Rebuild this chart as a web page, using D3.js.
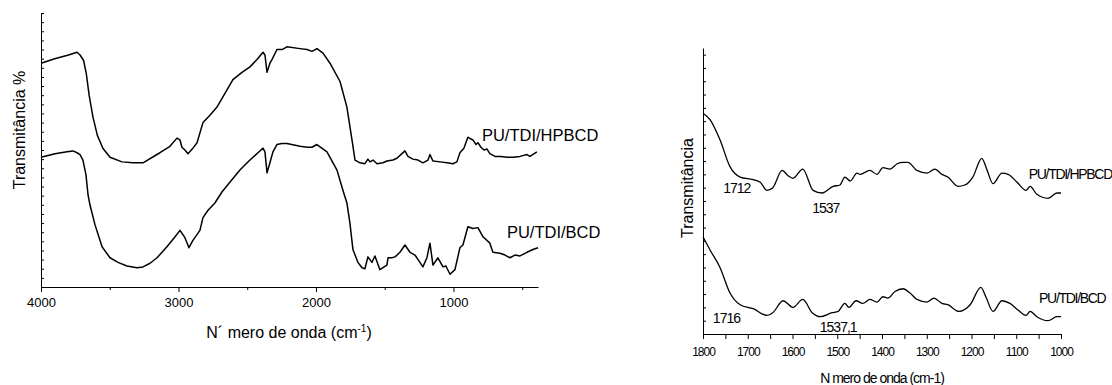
<!DOCTYPE html>
<html>
<head>
<meta charset="utf-8">
<script src="https://cdn.jsdelivr.net/npm/d3@7"></script>
<style>
  body { margin: 0; background: #fff; }
  svg { display: block; font-family: "Liberation Sans", Arial, sans-serif; }
  .axis path, .axis line { stroke: #000; stroke-width: 1; }
  .axis text { fill: #000; }
  .narrow text, text.narrow { letter-spacing: -1px; }
</style>
</head>
<body>
<script>
// full FTIR spectra, 4000-400 cm-1 (wavenumber, transmittance a.u.)
var wideHPBCD = [
  [4000,24.5],[3900,25.0],[3800,25.4],[3738,25.7],[3716,25.4],[3690,24.8],[3670,23.3],[3650,21.0],[3622,18.6],
  [3590,16.6],[3550,15.2],[3498,14.2],[3411,13.7],[3331,13.6],[3258,13.6],[3135,14.7],[3062,15.4],[3011,16.3],
  [2989,16.1],[2975,15.3],[2953,15.0],[2931,14.6],[2895,15.2],[2865,15.8],[2822,18.0],[2771,18.8],
  [2720,19.7],[2662,21.2],[2604,22.7],[2538,23.5],[2480,24.1],[2429,24.9],[2385,25.7],[2371,25.4],
  [2356,23.5],[2335,24.5],[2320,24.9],[2284,26.0],[2247,26.0],[2211,26.3],[2116,26.1],[2065,26.0],
  [2029,25.8],[1993,26.1],[1949,25.6],[1898,24.5],[1825,22.5],[1775,19.7],[1738,16.1],[1716,13.9],
  [1680,13.6],[1644,13.5],[1622,14.0],[1607,13.7],[1585,13.9],[1556,13.5],[1513,13.6],[1484,13.8],
  [1440,13.9],[1411,14.1],[1375,14.6],[1353,14.9],[1331,14.3],[1295,14.0],[1258,13.9],[1222,13.6],
  [1185,13.9],[1171,14.5],[1149,13.8],[1098,13.7],[1047,13.6],[1004,13.5],[975,13.7],[953,14.7],
  [924,15.2],[895,16.4],[873,16.2],[858,16.1],[836,15.6],[822,15.8],[800,15.3],[778,15.0],
  [756,15.1],[735,14.6],[698,14.3],[655,14.3],[611,14.2],[567,14.2],[516,14.3],[465,14.5],
  [444,14.3],[393,14.8]
];
var wideBCD = [
  [4000,14.2],[3898,14.6],[3811,14.8],[3767,14.9],[3738,14.7],[3716,14.5],[3695,13.9],[3673,12.3],
  [3658,10.1],[3644,9.0],[3607,6.8],[3556,4.4],[3498,3.2],[3440,2.7],[3375,2.3],[3302,2.1],
  [3258,2.2],[3207,2.6],[3156,3.2],[3084,4.4],[3025,5.5],[2989,6.2],[2953,5.4],[2924,4.3],
  [2895,5.1],[2844,6.2],[2822,7.6],[2785,8.4],[2735,9.2],[2684,10.4],[2625,11.5],[2553,12.8],
  [2480,13.9],[2422,14.7],[2385,15.2],[2371,14.8],[2356,12.5],[2335,13.6],[2313,14.8],[2284,15.6],
  [2247,15.7],[2211,15.7],[2116,15.4],[2065,15.3],[2029,15.3],[1993,15.6],[1920,14.8],[1847,12.8],
  [1804,10.6],[1775,9.2],[1753,7.0],[1731,4.1],[1695,2.7],[1665,2.1],[1644,2.0],[1622,3.3],
  [1593,2.7],[1571,3.4],[1535,1.9],[1484,2.4],[1476,3.2],[1447,3.2],[1425,3.3],[1389,3.8],
  [1353,4.6],[1316,3.8],[1280,3.5],[1244,2.7],[1222,2.2],[1193,3.2],[1171,4.8],[1149,2.4],
  [1113,3.2],[1076,2.2],[1055,2.3],[1025,1.4],[989,1.9],[953,4.3],[931,4.6],[895,6.6],
  [858,6.4],[822,6.5],[785,5.5],[735,4.8],[713,3.8],[662,3.7],[625,3.5],[589,3.2],
  [553,3.5],[516,3.4],[465,3.8],[422,4.1],[385,4.3]
];

// carbonyl / amide region, 1800-1000 cm-1
var zoomHPBCD = [
  [1800,16.6],[1784,16.1],[1762,14.6],[1740,12.6],[1717,11.8],[1688,11.6],[1672,11.4],[1657,10.8],
  [1644,11.0],[1623,12.3],[1610,11.9],[1599,11.7],[1577,12.4],[1554,10.8],[1534,10.6],[1509,11.1],
  [1494,11.2],[1483,11.8],[1471,11.5],[1456,12.1],[1449,12.0],[1427,12.3],[1411,12.0],[1398,12.5],
  [1382,12.4],[1366,12.8],[1353,12.9],[1342,12.9],[1322,12.3],[1299,12.1],[1282,12.4],[1266,12.0],
  [1253,11.8],[1230,11.1],[1215,11.2],[1197,11.8],[1177,13.2],[1165,12.3],[1152,11.3],[1132,12.1],
  [1118,12.0],[1098,11.4],[1078,10.8],[1069,11.1],[1054,10.5],[1029,10.2],[1009,10.6],[1000,10.6]
];
var zoomBCD = [
  [1800,7.3],[1784,6.3],[1762,5.0],[1740,3.1],[1717,2.2],[1688,1.9],[1657,1.4],[1644,1.6],
  [1621,2.5],[1599,2.0],[1577,2.6],[1556,1.6],[1538,1.3],[1512,1.6],[1498,1.7],[1483,2.3],
  [1474,2.0],[1458,2.5],[1443,2.3],[1427,2.6],[1411,2.4],[1398,2.8],[1387,2.7],[1371,3.2],
  [1353,3.4],[1338,3.1],[1322,2.6],[1299,2.4],[1284,2.7],[1266,2.3],[1253,2.2],[1228,1.7],
  [1203,2.2],[1179,3.5],[1168,2.8],[1152,1.7],[1132,2.5],[1114,2.3],[1096,1.8],[1078,1.4],
  [1069,1.7],[1054,1.3],[1029,1.0],[1009,1.3],[1000,1.3]
];

var wideTicks = [4000, 3000, 2000, 1000];
var wideMinor = [3500, 2500, 1500, 500];
var zoomTicks = [1800, 1700, 1600, 1500, 1400, 1300, 1200, 1100, 1000];
var zoomMinor = [1750, 1650, 1550, 1450, 1350, 1250, 1150, 1050];

// series names and band labels: [text, wavenumber, transmittance]
var wideLabels = [["PU/TDI/HPBCD", 793, 16.0], ["PU/TDI/BCD", 611, 5.4]];
var zoomLabels = [
  ["PU/TDI/HPBCD", 1072, 11.65], ["PU/TDI/BCD", 1049, 2.33],
  ["1712", 1755, 10.6], ["1537", 1556, 9.1], ["1716", 1778, 0.8], ["1537,1", 1539, 0.15]
];

var svg = d3.select("body").append("svg")
  .attr("width", 1112)
  .attr("height", 385);

var line = function(x, y) {
  return d3.line().x(function(d) { return x(d[0]); }).y(function(d) { return y(d[1]); });
};

// ---- left panel ----
var x1 = d3.scaleLinear().domain([4000, 385]).range([41, 538]);
var y1 = d3.scaleLinear().domain([0, 30]).range([287, 13]);

svg.append("g").attr("class", "axis")
  .attr("transform", "translate(0,287)")
  .call(d3.axisBottom(x1).tickValues(wideTicks).tickFormat(d3.format("d"))
    .tickSize(5).tickSizeOuter(0).tickPadding(6))
  .call(function(g) { g.selectAll("text").attr("font-size", 13); });
svg.append("g").attr("class", "axis")
  .attr("transform", "translate(0,287)")
  .call(d3.axisBottom(x1).tickValues(wideMinor).tickSize(3).tickFormat(""))
  .call(function(g) { g.select(".domain").remove(); });
svg.append("g").attr("class", "axis")
  .attr("transform", "translate(41,0)")
  .call(d3.axisRight(y1).ticks(30).tickSize(3).tickSizeOuter(0).tickFormat(""));

[wideHPBCD, wideBCD].forEach(function(s) {
  svg.append("path").datum(s)
    .attr("fill", "none").attr("stroke", "#000").attr("stroke-width", 1.5)
    .attr("stroke-linejoin", "round")
    .attr("d", line(x1, y1));
});

svg.selectAll("text.wlab").data(wideLabels).enter().append("text")
  .attr("class", "wlab")
  .attr("x", function(d) { return x1(d[1]); })
  .attr("y", function(d) { return y1(d[2]); })
  .attr("font-size", 16.5)
  .text(function(d) { return d[0]; });

svg.append("text")
  .attr("transform", "translate(25,130) rotate(-90)")
  .attr("text-anchor", "middle").attr("font-size", 16)
  .text("Transmitância %");

var xt = svg.append("text")
  .attr("x", 289).attr("y", 338)
  .attr("text-anchor", "middle").attr("font-size", 16);
xt.append("tspan").text("N´ mero de onda (cm");
xt.append("tspan").attr("dy", -6).attr("font-size", 10).text("-1");
xt.append("tspan").attr("dy", 6).text(")");

// ---- right panel ----
var x2 = d3.scaleLinear().domain([1800, 1000]).range([703, 1061]);
var y2 = d3.scaleLinear().domain([0, 21.5]).range([334, 48]);

svg.append("g").attr("class", "axis narrow")
  .attr("transform", "translate(0,334)")
  .call(d3.axisBottom(x2).tickValues(zoomTicks).tickFormat(d3.format("d"))
    .tickSize(5).tickSizeOuter(0).tickPadding(8))
  .call(function(g) { g.selectAll("text").attr("font-size", 12); });
svg.append("g").attr("class", "axis")
  .attr("transform", "translate(0,334)")
  .call(d3.axisBottom(x2).tickValues(zoomMinor).tickSize(5).tickFormat(""))
  .call(function(g) { g.select(".domain").remove(); });
svg.append("g").attr("class", "axis")
  .attr("transform", "translate(703,0)")
  .call(d3.axisRight(y2).ticks(21).tickSize(3).tickSizeOuter(0).tickFormat(""));

[zoomHPBCD, zoomBCD].forEach(function(s) {
  svg.append("path").datum(s)
    .attr("fill", "none").attr("stroke", "#000").attr("stroke-width", 1.3)
    .attr("d", line(x2, y2).curve(d3.curveMonotoneX));
});

svg.selectAll("text.zlab").data(zoomLabels).enter().append("text")
  .attr("class", "zlab narrow")
  .attr("x", function(d) { return x2(d[1]); })
  .attr("y", function(d) { return y2(d[2]); })
  .attr("font-size", 14)
  .style("letter-spacing", function(d) { return d[0].length > 6 ? "-1.3px" : "-1px"; })
  .text(function(d) { return d[0]; });

svg.append("text")
  .attr("transform", "translate(693,188) rotate(-90)")
  .attr("text-anchor", "middle").attr("font-size", 16)
  .text("Transmitância");

svg.append("text")
  .attr("class", "narrow")
  .attr("x", 882).attr("y", 383)
  .attr("text-anchor", "middle").attr("font-size", 14)
  .text("N mero de onda (cm-1)");
</script>
</body>
</html>
